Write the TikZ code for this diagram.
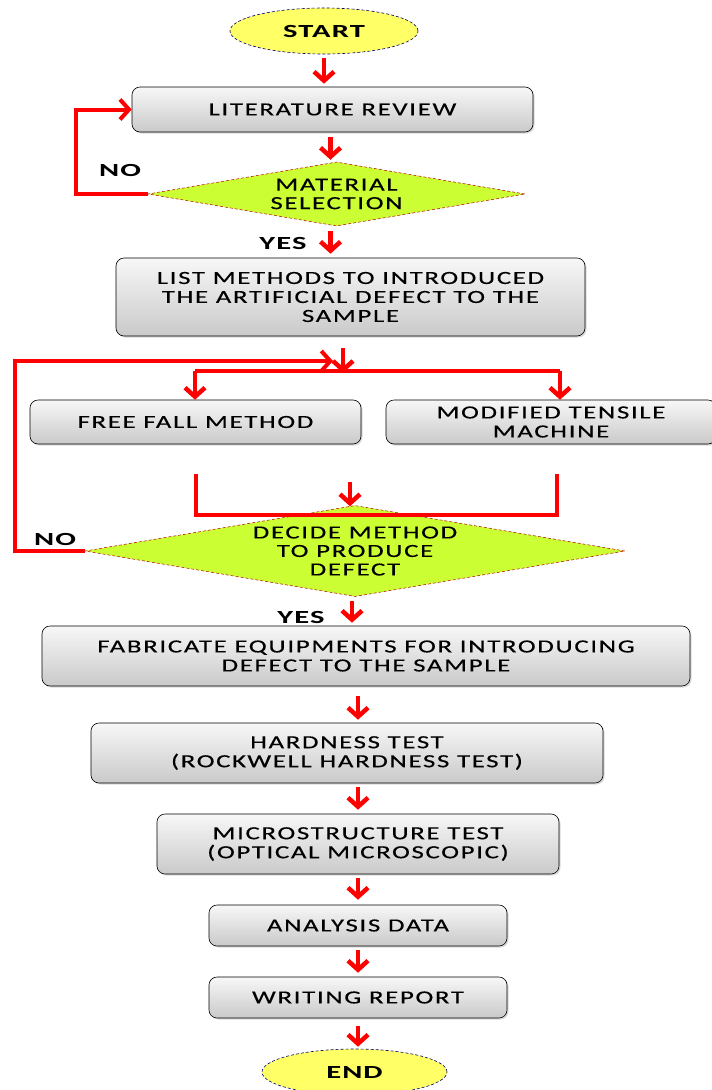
\documentclass[tikz,border=0pt]{standalone}
\usepackage{fontspec}
\setmainfont{Carlito}[FakeStretch=1.45,LetterSpace=9,UprightFeatures={FakeBold=0.4},BoldFeatures={FakeStretch=1.65,LetterSpace=6}]
\usetikzlibrary{shapes.geometric,arrows.meta,shadows,calc}
\definecolor{dlime}{HTML}{CCFF33}
\definecolor{termyellow}{HTML}{FFFF66}
\begin{document}
\begin{tikzpicture}[x=1pt,y=-1pt,
  flowbox/.style={rectangle, rounded corners=8pt, draw=black, line width=0.6pt,
    top color=gray!6, bottom color=gray!42,
    drop shadow={shadow xshift=1.5pt, shadow yshift=-1.5pt, opacity=0.3},
    align=center, inner sep=0pt, font=\fontsize{18.5}{19}\selectfont},
  decision/.style={diamond, draw=red!70!black, densely dashed, line width=0.5pt,
    fill=dlime, align=center, inner sep=0pt, font=\fontsize{18.5}{18.5}\selectfont},
  terminal/.style={ellipse, draw=blue!40!black, densely dashed, line width=0.6pt,
    fill=termyellow, inner sep=0pt, font=\bfseries\fontsize{18.5}{19}\selectfont},
  lbl/.style={font=\bfseries\fontsize{18.5}{19}\selectfont, inner sep=0pt},
  flowarrow/.style={draw=red, line width=4.5pt, -{Straight Barb[length=9pt,width=20pt]}},
  loopline/.style={draw=red, line width=4pt},
  looparrow/.style={draw=red, line width=4pt, -{Straight Barb[length=9pt,width=20pt]}}
]
\useasboundingbox (0,0) rectangle (712,1090);

\node[terminal, minimum width=188pt, minimum height=46pt] (start) at (324,31) {START};
\node[flowbox, minimum width=401pt, minimum height=45pt] (lit) at (332.5,109.5) {LITERATURE REVIEW};
\node[decision, minimum width=377pt, minimum height=64pt, aspect=5.9] (mat) at (336.5,194) {MATERIAL\\SELECTION};
\node[flowbox, minimum width=469pt, minimum height=78pt] (list) at (350.5,297) {LIST METHODS TO INTRODUCED\\THE ARTIFICIAL DEFECT TO THE\\SAMPLE};
\node[flowbox, minimum width=331pt, minimum height=44pt] (free) at (195.5,422) {FREE FALL METHOD};
\node[flowbox, minimum width=330pt, minimum height=44pt] (mod) at (551,422) {MODIFIED TENSILE\\MACHINE};
\node[decision, minimum width=540pt, minimum height=91pt, aspect=5.93, inner sep=-6pt] (decide) at (355,551) {DECIDE METHOD\\TO PRODUCE\\DEFECT};
\node[flowbox, minimum width=648pt, minimum height=60pt] (fab) at (366,656) {FABRICATE EQUIPMENTS FOR INTRODUCING\\DEFECT TO THE SAMPLE};
\node[flowbox, minimum width=512pt, minimum height=60pt] (hard) at (347,753) {HARDNESS TEST\\(ROCKWELL HARDNESS TEST)};
\node[flowbox, minimum width=402pt, minimum height=60pt] (micro) at (358,844) {MICROSTRUCTURE TEST\\(OPTICAL MICROSCOPIC)};
\node[flowbox, minimum width=298pt, minimum height=41pt] (anal) at (358,925.5) {ANALYSIS DATA};
\node[flowbox, minimum width=298pt, minimum height=41pt] (write) at (358,997.5) {WRITING REPORT};
\node[terminal, minimum width=185pt, minimum height=46pt] (end) at (354.5,1072) {END};

\node[lbl] (no1) at (120,170) {NO};
\node[lbl] (yes1) at (283,243) {YES};
\node[lbl] (no2) at (55,539) {NO};
\node[lbl] (yes2) at (301,617) {YES};

% main arrows
\draw[flowarrow] ($(start.south)+(0,4)$) -- ($(start.south |- lit.north)+(0,-3)$);
\draw[flowarrow] ($(lit.south)+(-2,5)$) -- ($(lit.south |- mat.north)+(-2,-2)$);
\draw[flowarrow] ($(mat.south)+(-6,5)$) -- ($(mat.south |- list.north)+(-6,-4)$);

\coordinate (splitTop) at (343,348);
\coordinate (split) at (343,373);
\coordinate (splitL) at (195,371);
\coordinate (splitR) at (560,371);
\draw[flowarrow] (splitTop) -- (split);
\draw[loopline] (splitL) -- (splitR);
\draw[flowarrow] (splitL) -- (splitL |- free.north);
\draw[flowarrow] (splitR) -- (splitR |- mod.north);

% loop 1
\coordinate (loopA) at (76,150);
\draw[looparrow] (mat.west) -| (loopA) |- (lit.west);

% loop 2
\coordinate (loopB) at (15,361);
\coordinate (loopBend) at (333,361);
\draw[looparrow] (decide.west) -| (loopB) -- (loopBend);

% bracket joining both methods
\coordinate (brL) at (196,474);
\coordinate (brR) at (557,474);
\coordinate (brBot) at (350,515);
\draw[loopline] (brL) |- (brBot) -| (brR);
\coordinate (joinTop) at (350,482);
\draw[flowarrow] (joinTop) -- ($(joinTop |- decide.north)+(0,1)$);

\draw[flowarrow] ($(decide.south)+(-3,4)$) -- ($(decide.south |- fab.north)+(-3,-3)$);
\draw[flowarrow] ($(fab.south -| micro.north)+(0,10)$) -- ($(micro.north |- hard.north)+(0,-3)$);
\draw[flowarrow] ($(hard.south -| micro.north)+(0,4)$) -- ($(micro.north)+(0,-4)$);
\draw[flowarrow] ($(micro.south)+(0,4)$) -- ($(anal.north)+(0,-5)$);
\draw[flowarrow] ($(anal.south)+(0,4)$) -- ($(write.north)+(0,-4)$);
\draw[flowarrow] ($(write.south)+(0,8)$) -- ($(write.south |- end.north)+(0,-2)$);
\end{tikzpicture}
\end{document}
